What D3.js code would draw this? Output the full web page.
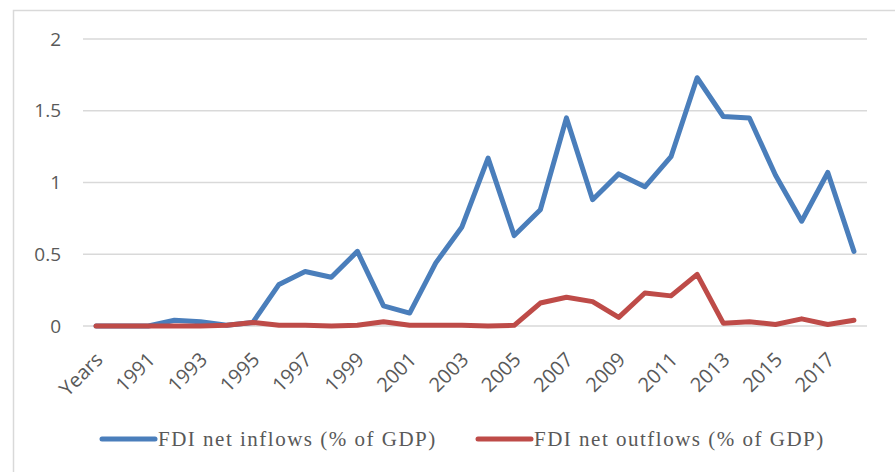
<!DOCTYPE html>
<html>
<head>
<meta charset="utf-8">
<script src="https://cdn.jsdelivr.net/npm/d3@7"></script>
<style>
  body { margin: 0; background: #fff; }
  svg { display: block; }
</style>
</head>
<body>
<div id="chart"></div>
<script>
// data
var years = ["Years", "1990", "1991", "1992", "1993", "1994", "1995", "1996", "1997", "1998", "1999",
  "2000", "2001", "2002", "2003", "2004", "2005", "2006", "2007", "2008", "2009",
  "2010", "2011", "2012", "2013", "2014", "2015", "2016", "2017", "2018"];

var inflows = [0, 0, 0, 0.04, 0.03, 0.005, 0.025, 0.29, 0.38, 0.34, 0.52,
  0.14, 0.09, 0.44, 0.69, 1.17, 0.63, 0.81, 1.45, 0.88, 1.06,
  0.97, 1.18, 1.73, 1.46, 1.45, 1.05, 0.73, 1.07, 0.52];

var outflows = [0, 0, 0, 0, 0, 0.005, 0.025, 0.005, 0.005, 0, 0.005,
  0.03, 0.005, 0.005, 0.005, 0, 0.005, 0.16, 0.2, 0.17, 0.06,
  0.23, 0.21, 0.36, 0.02, 0.03, 0.01, 0.05, 0.01, 0.04];

var yTicks = [0, 0.5, 1, 1.5, 2];

var seriesNames = ["FDI net inflows (% of GDP)", "FDI net outflows (% of GDP)"];
var colors = ["#4a7ebb", "#be4b48"];

// chart
var width = 895, height = 472;
var margin = { top: 39, left: 83, right: 28, bottom: 146 };

var svg = d3.select("#chart").append("svg")
  .attr("width", width)
  .attr("height", height);

// outer chart border
svg.append("rect")
  .attr("x", 13.5).attr("y", 10.5)
  .attr("width", width + 20).attr("height", height + 20)
  .attr("fill", "none")
  .attr("stroke", "#d9d9d9")
  .attr("stroke-width", 1.5);

var x = d3.scaleBand()
  .domain(years)
  .range([margin.left, width - margin.right]);

var y = d3.scaleLinear()
  .domain([0, 2])
  .range([height - margin.bottom, margin.top]);

// gridlines
svg.append("g")
  .selectAll("line")
  .data(yTicks)
  .enter().append("line")
  .attr("x1", margin.left).attr("x2", width - margin.right)
  .attr("y1", function(d) { return y(d); })
  .attr("y2", function(d) { return y(d); })
  .attr("stroke", "#d9d9d9")
  .attr("stroke-width", 1.5);

// y labels
var yAxis = d3.axisLeft(y).tickValues(yTicks).tickSize(0).tickPadding(0)
  .tickFormat(function(d) { return String(d); });
svg.append("g")
  .attr("transform", "translate(61,0)")
  .call(yAxis)
  .call(function(g) { g.select(".domain").remove(); })
  .selectAll("text")
  .style("font-family", "'Open Sans', sans-serif")
  .style("font-size", "19px")
  .attr("fill", "#595959");

// x labels, every other category
var xAxis = d3.axisBottom(x)
  .tickValues(years.filter(function(d, i) { return i % 2 === 0; }))
  .tickSize(0).tickPadding(0);
svg.append("g")
  .attr("transform", "translate(0," + y(0) + ")")
  .call(xAxis)
  .call(function(g) { g.select(".domain").remove(); })
  .selectAll("text")
  .attr("x", 0)
  .attr("y", 0)
  .attr("dy", "0.35em")
  .attr("transform", "translate(3,30) rotate(-45)")
  .style("text-anchor", "end")
  .style("font-family", "'Open Sans', sans-serif")
  .style("font-size", "20px")
  .attr("fill", "#595959");

// lines
var line = d3.line()
  .x(function(d, i) { return x(years[i]) + x.bandwidth() / 2; })
  .y(function(d) { return y(d); });

[inflows, outflows].forEach(function(series, k) {
  svg.append("path")
    .datum(series)
    .attr("d", line)
    .attr("fill", "none")
    .attr("stroke", colors[k])
    .attr("stroke-width", 5)
    .attr("stroke-linejoin", "round")
    .attr("stroke-linecap", "round");
});

// legend
var legendX = [102, 478];
var legend = svg.selectAll(".legend")
  .data(seriesNames)
  .enter().append("g")
  .attr("class", "legend")
  .attr("transform", function(d, i) { return "translate(" + legendX[i] + ",439)"; });

legend.append("line")
  .attr("x1", 0).attr("x2", 53)
  .attr("stroke", function(d, i) { return colors[i]; })
  .attr("stroke-width", 5)
  .attr("stroke-linecap", "round");

legend.append("text")
  .attr("x", 56)
  .attr("dy", "0.35em")
  .text(function(d) { return d; })
  .style("font-family", "'Liberation Serif', serif")
  .style("font-size", "21px")
  .style("letter-spacing", "1.5px")
  .attr("fill", "#595959");
</script>
</body>
</html>
